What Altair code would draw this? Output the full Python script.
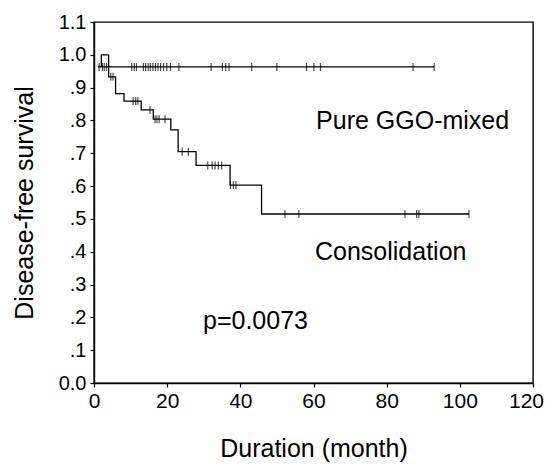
import altair as alt
import pandas as pd

# ---- data ----
# Pure GGO-mixed curve (step-after path points: time, survival)
ggo_time = [2.0, 2.0, 4.0, 93.0]
ggo_surv = [0.963, 1.0, 0.963, 0.963]
ggo_cens = [10.3, 11.0, 11.6, 13.5, 14.1, 14.8, 15.4, 16.1, 16.8, 17.5, 18.2, 19.0,
            19.9, 20.9, 23.2, 32.0, 35.1, 36.0, 36.9, 43.1, 50.0, 58.1, 60.1, 61.9,
            87.2, 93.0]

# Consolidation curve
con_time = [1.1, 4.0, 5.9, 8.2, 12.9, 16.2, 21.0, 23.0, 27.9, 37.2, 45.8, 102.5]
con_surv = [0.963, 0.933, 0.882, 0.859, 0.832, 0.804, 0.771, 0.705, 0.663, 0.603, 0.515, 0.515]
con_cens = [1.4, 2.3, 2.8, 3.4, 4.6, 5.2, 10.7, 11.4, 12.0, 15.3, 16.7, 17.2, 17.8, 19.4,
            24.1, 25.8, 31.1, 32.3, 33.1, 34.0, 34.9, 37.3, 38.1, 38.8,
            52.2, 56.0, 85.0, 88.2, 88.8, 102.5]

x_ticks = [0, 20, 40, 60, 80, 100, 120]
y_ticks = [0.0, 0.1, 0.2, 0.3, 0.4, 0.5, 0.6, 0.7, 0.8, 0.9, 1.0, 1.1]

labels = ["Pure GGO-mixed", "Consolidation", "p=0.0073"]

# ---- tables ----
def surv_at(times, survs, t):
    s = survs[0]
    for tt, ss in zip(times, survs):
        if tt <= t:
            s = ss
    return s

lines = pd.DataFrame(
    [{"group": "GGO", "i": i, "t": t, "s": s} for i, (t, s) in enumerate(zip(ggo_time, ggo_surv))]
    + [{"group": "CON", "i": i, "t": t, "s": s} for i, (t, s) in enumerate(zip(con_time, con_surv))]
)
cens = pd.DataFrame(
    [{"t": t, "s": ggo_surv[-1]} for t in ggo_cens]
    + [{"t": t, "s": surv_at(con_time, con_surv, t)} for t in con_cens]
)
# annotation anchors (data units)
ann = pd.DataFrame({"label": labels, "t": [60.7, 60.4, 29.8], "s": [0.773, 0.376, 0.165]})

FONT = "Liberation Sans"

x = alt.X("t:Q", scale=alt.Scale(domain=[0, 120], nice=False),
          axis=alt.Axis(values=x_ticks, title="Duration (month)", grid=False,
                        labelFontSize=21, titleFontSize=25, titleFontWeight="normal",
                        titlePadding=25, labelPadding=3, tickSize=4, labelOverlap=False,
                        labelFlush=False,
                        labelOffset={"condition": {"test": "datum.value == 120", "value": -7}, "value": 0}))
y = alt.Y("s:Q", scale=alt.Scale(domain=[0, 1.1], nice=False),
          axis=alt.Axis(values=y_ticks, title="Disease-free survival", grid=False,
                        labelExpr="datum.value < 0.05 ? '0.0' : (datum.value >= 0.95 ? format(datum.value, '.1f') : replace(format(datum.value, '.1f'), '0.', '.'))",
                        labelFontSize=20, titleFontSize=25, titleFontWeight="normal",
                        titlePadding=21, labelPadding=4, tickSize=4, labelOverlap=False,
                        labelFlush=False))

line_layer = alt.Chart(lines).mark_line(interpolate="step-after", color="black", strokeWidth=1.3).encode(
    x=x, y=y, detail="group:N", order="i:Q")

tick_layer = alt.Chart(cens).mark_tick(orient="vertical", color="black", size=8, thickness=1.2).encode(
    x=x, y=y)

text_layer = alt.Chart(ann).mark_text(align="left", baseline="alphabetic", fontSize=25,
                                      font=FONT, color="black").encode(
    x=x, y=y, text="label:N")

chart = alt.layer(line_layer, tick_layer, text_layer).properties(
    width=439, height=361,
    autosize=alt.AutoSizeParams(type="none"),
    padding={"left": 86, "top": 14, "right": 12, "bottom": 80},
).configure(font=FONT).configure_axis(
    domainColor="black", domainWidth=1.4, tickColor="black", tickWidth=1.2,
    labelColor="black", titleColor="black", labelFont=FONT, titleFont=FONT,
).configure_view(stroke="black", strokeWidth=1.4)

chart.save("out.html", embed_options={"renderer": "svg", "actions": False})
